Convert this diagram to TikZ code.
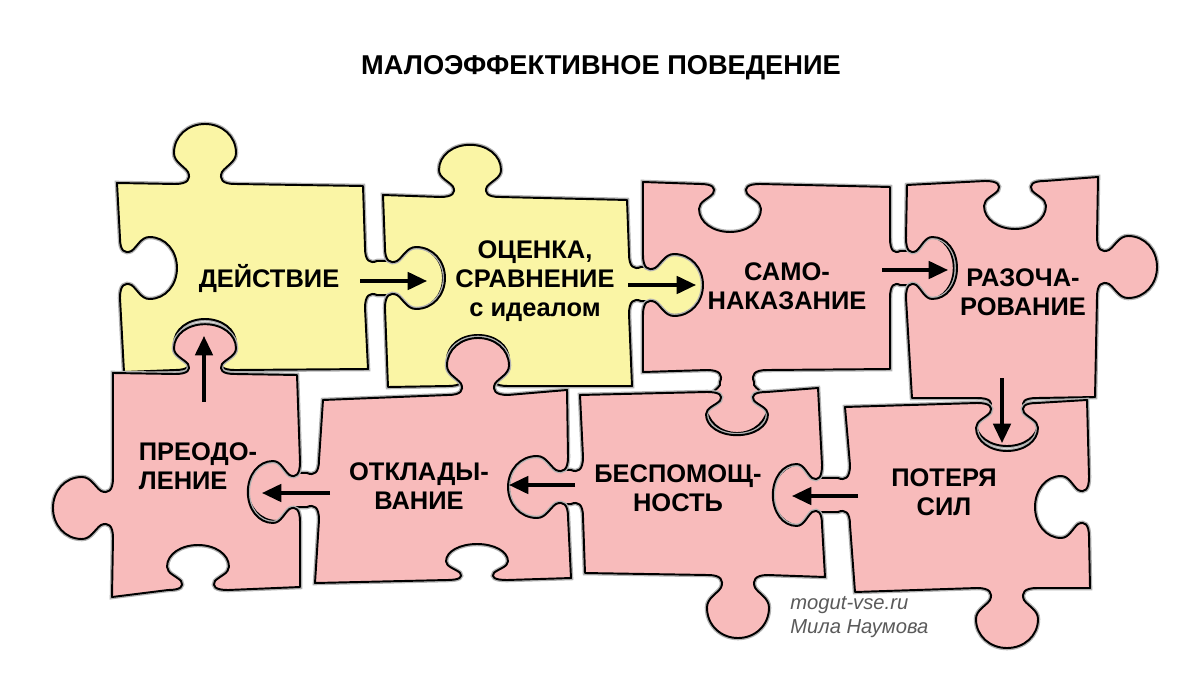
\documentclass[tikz,border=0pt]{standalone}
\usepackage{fontspec}
\setmainfont{Liberation Sans}
\usetikzlibrary{arrows.meta}

\definecolor{pieceyellow}{RGB}{250,245,165}
\definecolor{piecepink}{RGB}{248,187,187}
\definecolor{signgray}{RGB}{90,90,90}

% knob on an edge: centre x, centre y, rotation, depth factor (negative = socket), neck stretch
\newcommand\knob[5]{{[shift={(#1,#2)},rotate=#3,yscale=#4]
  -- (-30,0) .. controls (-17,0) and (-14,-5) .. (-17,-12)
  -- (-17,{-12-#5})
  .. controls (-21,{-18-#5}) and (-31,{-22-#5}) .. (-31,{-31-#5})
  .. controls (-31,{-48-#5}) and (-17,{-60-#5}) .. (0,{-60-#5})
  .. controls (17,{-60-#5}) and (31,{-48-#5}) .. (31,{-31-#5})
  .. controls (31,{-22-#5}) and (21,{-18-#5}) .. (17,{-12-#5})
  -- (17,-12) .. controls (14,-5) and (17,0) .. (30,0)}}

\begin{document}
\begin{tikzpicture}[x=0.02cm, y=-0.02cm,
    piece/.style={draw=black, line width=1.1pt, line join=round,
      preaction={draw=black!30, line width=2.6pt}},
    flow/.style={-{Triangle[length=11pt,width=10pt]}, line width=1.8pt},
    word/.style={font=\bfseries\fontsize{14.5}{16.5}\selectfont, align=center, inner sep=0pt}]

	\useasboundingbox (0,0) rectangle (1200,696);

	% yellow pieces
	\draw[piece, fill=pieceyellow] (117,183) \knob{205}{184}{0}{1}{0} -- (363,186)
	  \knob{365}{278}{-90}{1}{18} -- (368,369) \knob{205}{370}{180}{-0.85}{0} -- (124,372)
	  \knob{120}{268}{90}{-0.95}{0} -- cycle;
	\draw[piece, fill=pieceyellow] (383,195) \knob{470}{197}{0}{0.87}{0} -- (627,200)
	  \knob{629}{284}{-90}{1}{14} -- (632,386) \knob{478}{386}{180}{-0.85}{0} -- (388,387)
	  \knob{385}{278}{90}{-1}{0} -- cycle;

	% pink pieces
	\draw[piece, fill=piecepink] (643,182) \knob{730}{184}{0}{-0.8}{0} -- (890,187)
	  \knob{890}{268}{-90}{0.85}{15} -- (890,369) \knob{737}{370}{180}{1}{3} -- (643,372)
	  \knob{643}{285}{90}{-1}{0} -- cycle;
	\draw[piece, fill=piecepink] (907,185) \knob{1015}{181}{0}{-0.8}{0} -- (1098,177)
	  \knob{1097}{267}{-90}{1}{0} -- (1095,397) \knob{1007}{398}{180}{0.8}{0} -- (912,398)
	  \knob{906}{268}{90}{-0.85}{0} -- cycle;
	\draw[piece, fill=piecepink] (845,407) \knob{1007}{403}{0}{-0.8}{0} -- (1087,400)
	  \knob{1089}{507}{-90}{-0.9}{0} -- (1090,588) \knob{1007}{588}{180}{1}{0} -- (855,592)
	  \knob{850}{495}{90}{1}{17} -- cycle;
	\draw[piece, fill=piecepink] (580,395) \knob{737}{392}{0}{-0.72}{0} -- (818,388)
	  \knob{822}{495}{-90}{-0.82}{0} -- (825,577) \knob{738}{575}{180}{1.05}{0} -- (585,573)
	  \knob{583}{487}{90}{1}{14} -- cycle;
	\draw[piece, fill=piecepink] (323,400) \knob{478}{395}{0}{0.95}{0} -- (567,390)
	  \knob{568}{487}{-90}{-1}{0} -- (571,578) \knob{477}{580}{180}{-0.6}{0} -- (315,583)
	  \knob{319}{490}{90}{1}{11} -- cycle;
	\draw[piece, fill=piecepink] (113,373) \knob{205}{374}{0}{0.83}{0} -- (297,375)
	  \knob{300}{492}{-90}{-0.87}{0} -- (300,587) \knob{198}{590}{180}{-0.75}{0} -- (112,597)
	  \knob{113}{508}{90}{1}{0} -- cycle;

	% texts
	\node[font=\bfseries\fontsize{15.5}{18}\selectfont] (title) at (601,68) {МАЛОЭФФЕКТИВНОЕ ПОВЕДЕНИЕ};
	\node[word] (deistvie) at (269,279) {ДЕЙСТВИЕ};
	\node[word] (ocenka) at (535,281) {ОЦЕНКА,\\СРАВНЕНИЕ\\с идеалом};
	\node[word] (samo) at (787,286) {САМО-\\НАКАЗАНИЕ};
	\node[word] (razo) at (1023,292) {РАЗОЧА-\\РОВАНИЕ};
	\node[word] (poterya) at (944,492) {ПОТЕРЯ\\СИЛ};
	\node[word] (bespo) at (678,488) {БЕСПОМОЩ-\\НОСТЬ};
	\node[word] (otklad) at (419,486) {ОТКЛАДЫ-\\ВАНИЕ};
	\node[word, align=left] (preodo) at (198,466) {ПРЕОДО-\\ЛЕНИЕ};
	\node[anchor=west, align=left, inner sep=0pt, signgray,
	  font=\itshape\fontsize{11.5}{14}\selectfont] (sign) at (790,617) {mogut-vse.ru\\Мила Наумова};

	% arrows
	\coordinate (a1) at (360,281); \coordinate (b1) at (427,281);
	\coordinate (a2) at (628,285); \coordinate (b2) at (696,285);
	\coordinate (a3) at (882,270); \coordinate (b3) at (948,270);
	\coordinate (a4) at (1002,378); \coordinate (b4) at (1002,443);
	\coordinate (a5) at (858,496); \coordinate (b5) at (792,496);
	\coordinate (a6) at (575,485); \coordinate (b6) at (509,485);
	\coordinate (a7) at (330,493); \coordinate (b7) at (262,493);
	\coordinate (a8) at (204,402); \coordinate (b8) at (204,336);
	\foreach \i in {1,...,8}{
		\draw[flow] (a\i) -- (b\i);
	}

\end{tikzpicture}
\end{document}
